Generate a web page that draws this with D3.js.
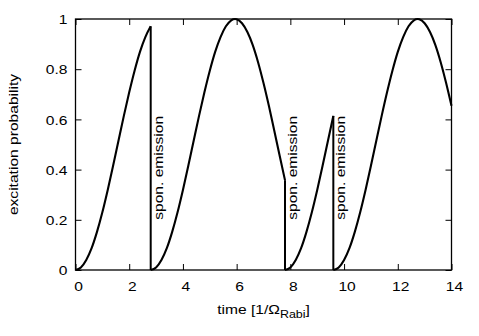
<!DOCTYPE html>
<html>
<head>
<meta charset="utf-8">
<script src="https://cdn.jsdelivr.net/npm/d3@7"></script>
<style>
  body { margin: 0; background: #fff; }
  text { font-family: "Liberation Sans", Arial, sans-serif; font-size: 13px; fill: #000; }
</style>
</head>
<body>
<svg class="chart"></svg>
<script>
// excitation probability, one array per segment between jumps
var segment1 = [[0, 0], [0.2, 0.010], [0.4, 0.040], [0.6, 0.087], [0.8, 0.152], [1.0, 0.230],
    [1.2, 0.319], [1.4, 0.415], [1.6, 0.515], [1.8, 0.614], [2.0, 0.708], [2.2, 0.794],
    [2.4, 0.869], [2.6, 0.928], [2.8, 0.971]];
var segment2 = [[2.8, 0], [3.0, 0.010], [3.2, 0.040], [3.4, 0.087], [3.6, 0.152], [3.8, 0.230],
    [4.0, 0.319], [4.2, 0.415], [4.4, 0.515], [4.6, 0.614], [4.8, 0.708], [5.0, 0.794],
    [5.2, 0.869], [5.4, 0.928], [5.6, 0.971], [5.8, 0.995], [5.94, 1.0], [6.0, 0.999],
    [6.2, 0.983], [6.4, 0.948], [6.6, 0.896], [6.8, 0.827], [7.0, 0.745], [7.2, 0.654],
    [7.4, 0.556], [7.6, 0.456], [7.8, 0.358]];
var segment3 = [[7.8, 0], [8.0, 0.010], [8.2, 0.040], [8.4, 0.087], [8.6, 0.152], [8.8, 0.230],
    [9.0, 0.319], [9.2, 0.415], [9.4, 0.515], [9.6, 0.614]];
var segment4 = [[9.6, 0], [9.8, 0.010], [10.0, 0.040], [10.2, 0.087], [10.4, 0.152], [10.6, 0.230],
    [10.8, 0.319], [11.0, 0.415], [11.2, 0.515], [11.4, 0.614], [11.6, 0.708], [11.8, 0.794],
    [12.0, 0.869], [12.2, 0.928], [12.4, 0.971], [12.6, 0.995], [12.74, 1.0], [12.8, 0.999],
    [13.0, 0.983], [13.2, 0.948], [13.4, 0.896], [13.6, 0.827], [13.8, 0.745], [14.0, 0.654]];

var emissionTimes = [2.8, 7.8, 9.6];
var emissionLabel = "spon. emission";
var emissionLabelY = 0.2;

var xTicks = [0, 2, 4, 6, 8, 10, 12, 14];
var yTicks = [0, 0.2, 0.4, 0.6, 0.8, 1];

function show() {

    'use strict';

    var width = 479, height = 336;
    var margin = {top: 19, bottom: 66, right: 27.5, left: 75.5},
        w = width - margin.left - margin.right,
        h = height - margin.top - margin.bottom;
    var stretch = "scale(1.2,1)";

    var svg = d3.select(".chart")
        .attr("width", width)
        .attr("height", height);

    var chart = svg.append("g")
        .attr("transform", "translate(" + margin.left + "," + margin.top + ")");

    var x = d3.scaleLinear().domain([0, 14]).range([0, w]);
    var y = d3.scaleLinear().domain([0, 1]).range([h, 0]);

    // ticks inside the frame on all four sides
    chart.append("g")
        .attr("transform", "translate(0," + h + ")")
        .call(d3.axisBottom(x).tickValues(xTicks).tickSizeInner(-6).tickSizeOuter(0).tickFormat(d3.format("d")))
        .call(function(g) {
            g.select(".domain").remove();
            g.selectAll("text")
                .attr("x", 2.5 / 1.2)
                .attr("y", 21.5)
                .attr("dy", null)
                .attr("transform", stretch)
                .attr("font-size", null).attr("font-family", null);
        });

    chart.append("g")
        .call(d3.axisLeft(y).tickValues(yTicks).tickSizeInner(-6).tickSizeOuter(0).tickFormat(d3.format("")))
        .call(function(g) {
            g.select(".domain").remove();
            g.selectAll("text")
                .attr("x", -8 / 1.2)
                .attr("dy", "0.36em")
                .attr("transform", stretch)
                .attr("font-size", null).attr("font-family", null);
        });

    chart.append("g")
        .call(d3.axisTop(x).tickValues(xTicks).tickSizeInner(-6).tickSizeOuter(0).tickFormat(""))
        .call(function(g) { g.select(".domain").remove(); });

    chart.append("g")
        .attr("transform", "translate(" + w + ",0)")
        .call(d3.axisRight(y).tickValues(yTicks).tickSizeInner(-6).tickSizeOuter(0).tickFormat(""))
        .call(function(g) { g.select(".domain").remove(); });

    chart.selectAll(".tick line").attr("stroke", "#000").attr("stroke-width", 1);

    chart.append("rect")
        .attr("width", w)
        .attr("height", h)
        .attr("fill", "none")
        .attr("stroke", "#000")
        .attr("stroke-width", 1.3);

    var line = d3.line()
        .x(function(d) { return x(d[0]); })
        .y(function(d) { return y(d[1]); })
        .curve(d3.curveMonotoneX);

    var segments = [segment1, segment2, segment3, segment4];

    chart.selectAll(".curve")
        .data(segments)
        .enter()
        .append("path")
            .attr("class", "curve")
            .attr("d", line)
            .attr("fill", "none")
            .attr("stroke", "#000")
            .attr("stroke-width", 2.1);

    // quantum jumps: drop from the end of one segment to zero
    chart.selectAll(".jump")
        .data(emissionTimes)
        .enter()
        .append("line")
            .attr("class", "jump")
            .attr("x1", function(d) { return x(d); })
            .attr("x2", function(d) { return x(d); })
            .attr("y1", function(d, i) { return y(segments[i][segments[i].length - 1][1]); })
            .attr("y2", y(0))
            .attr("stroke", "#000")
            .attr("stroke-width", 2);

    chart.selectAll(".emission")
        .data(emissionTimes)
        .enter()
        .append("g")
            .attr("class", "emission")
            .attr("transform", function(d) {
                return "translate(" + (x(d) + 12) + "," + y(emissionLabelY) + ") rotate(-90) " + stretch;
            })
        .append("text")
            .attr("text-anchor", "start")
            .text(emissionLabel);

    // axis titles
    var xTitle = svg.append("g")
        .attr("transform", "translate(" + (margin.left + w / 2) + ",313.5) " + stretch)
        .append("text")
        .attr("text-anchor", "middle");
    xTitle.append("tspan").text("time [1/Ω");
    xTitle.append("tspan").attr("font-size", "10.4px").attr("dy", 4.5).text("Rabi");
    xTitle.append("tspan").attr("dy", -4.5).text("]");

    svg.append("g")
        .attr("transform", "translate(17.5," + (margin.top + h / 2) + ") rotate(-90) " + stretch)
        .append("text")
        .attr("text-anchor", "middle")
        .text("excitation probability");
}

show();
</script>
</body>
</html>
